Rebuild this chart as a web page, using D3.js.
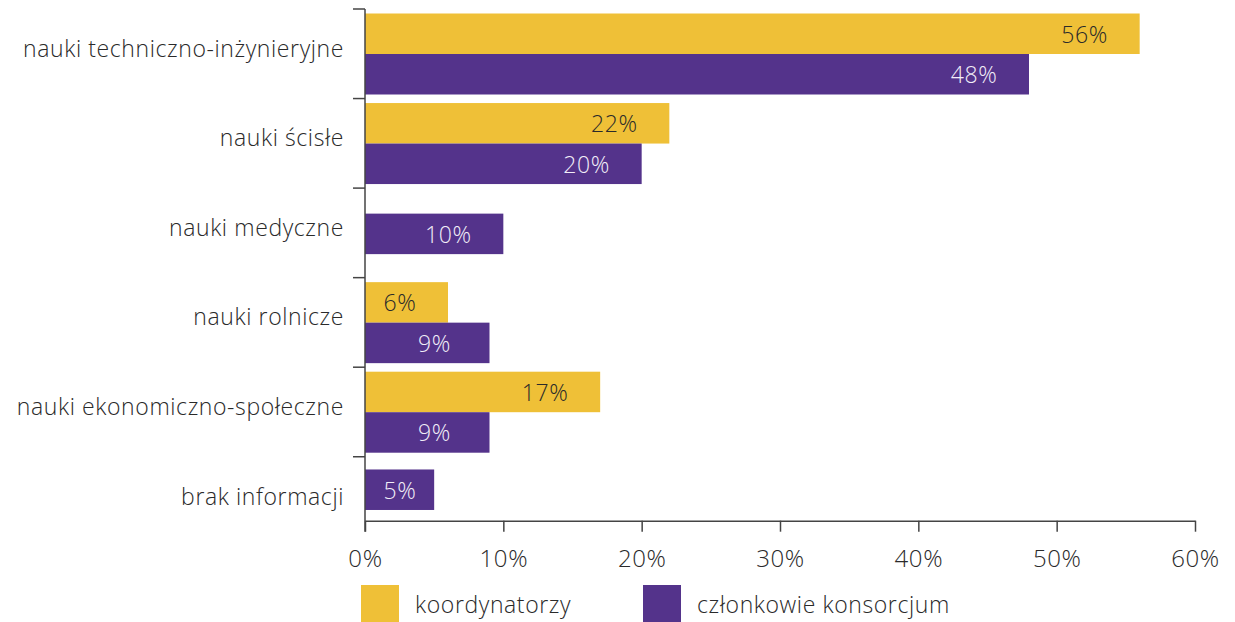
<!DOCTYPE html>
<html>
<head>
<meta charset="utf-8">
<script src="https://cdn.jsdelivr.net/npm/d3@7/dist/d3.min.js"></script>
<style>
  html, body { margin: 0; padding: 0; background: #fff; }
  svg { display: block; font-family: "Open Sans", "Lato", sans-serif; font-weight: 300; letter-spacing: 0.6px; }
</style>
</head>
<body>
<svg id="chart" width="1235" height="622"></svg>
<script>
// Share of project participants by scientific field
const categories = [
  "nauki techniczno-inżynieryjne",
  "nauki ścisłe",
  "nauki medyczne",
  "nauki rolnicze",
  "nauki ekonomiczno-społeczne",
  "brak informacji"
];
const koordynatorzy = [56, 22, null, 6, 17, null];
const czlonkowie = [48, 20, 10, 9, 9, 5];
const seriesNames = ["koordynatorzy", "członkowie konsorcjum"];
const seriesColors = ["#EFC037", "#54338B"];
const labelColors = ["#2a2a2a", "#F2EEF8"];
const xTicks = [0, 10, 20, 30, 40, 50, 60];

const svg = d3.select("#chart");
const plotLeft = 365, plotRight = 1195, plotTop = 9, axisY = 520.7;
const step = 89.55;
const fontFamily = "'Open Sans', Lato, sans-serif";
const textColor = "#2a2a2a";

const x = d3.scaleLinear().domain([0, 60]).range([plotLeft, plotRight]);
const y = d3.scaleBand().domain(categories).range([plotTop, plotTop + step * categories.length]).paddingInner(0).paddingOuter(0);
const sub = d3.scaleBand().domain([0, 1]).range([4.5, 85.5]).padding(0);

const series = [koordynatorzy, czlonkowie];
const barH = sub.bandwidth();

const bars = [];
categories.forEach((c, i) => {
  const present = series.map((s, k) => ({ k, v: s[i] })).filter(d => d.v != null);
  const b0 = y(c);
  present.forEach(d => {
    let yy;
    if (present.length === 1) {
      const b1 = Math.min(b0 + y.bandwidth(), axisY);
      yy = (b0 + b1) / 2 - barH / 2 + 1;
    } else {
      yy = b0 + sub(d.k);
    }
    bars.push({ cat: c, k: d.k, v: d.v, y: yy });
  });
});

// bars
svg.append("g").selectAll("rect").data(bars).join("rect")
  .attr("x", x(0))
  .attr("y", d => d.y)
  .attr("width", d => x(d.v) - x(0))
  .attr("height", barH)
  .attr("fill", d => seriesColors[d.k]);

// value labels inside bar ends
svg.append("g").selectAll("text").data(bars).join("text")
  .attr("x", d => Math.max(x(d.v) - 55, x(0) + 35))
  .attr("y", d => d.y + barH / 2)
  .attr("text-anchor", "middle")
  .attr("dominant-baseline", "central")
  .attr("font-size", 23)
  .attr("fill", d => labelColors[d.k])
  .text(d => d.v + "%");

// y axis line and category separators
const axisColor = "#444";
const gY = svg.append("g");
gY.append("line")
  .attr("x1", plotLeft).attr("x2", plotLeft)
  .attr("y1", plotTop).attr("y2", axisY + 11)
  .attr("stroke", axisColor).attr("stroke-width", 1.5);
gY.selectAll("line.tick").data(categories).join("line")
  .attr("class", "tick")
  .attr("x1", plotLeft - 12).attr("x2", plotLeft)
  .attr("y1", d => y(d)).attr("y2", d => y(d))
  .attr("stroke", axisColor).attr("stroke-width", 1.5);
gY.selectAll("text").data(categories).join("text")
  .attr("x", plotLeft - 21)
  .attr("y", d => y(d) + y.bandwidth() / 2 - 6)
  .attr("text-anchor", "end")
  .attr("dominant-baseline", "central")
  .attr("font-size", 23)
  .attr("fill", textColor)
  .text(d => d);

// x axis
const gX = svg.append("g").attr("transform", `translate(0,${axisY})`)
  .call(d3.axisBottom(x).tickValues(xTicks).tickFormat(d => d + "%").tickSize(11).tickSizeOuter(0));
gX.select(".domain").attr("stroke", axisColor).attr("stroke-width", 1.5);
gX.selectAll(".tick line").attr("stroke", axisColor).attr("stroke-width", 1.5);
gX.selectAll(".tick text")
  .attr("font-size", 24)
  .attr("fill", textColor)
  .attr("font-family", fontFamily)
  .attr("font-weight", 300)
  .attr("dy", null)
  .attr("y", 37)
  .attr("dominant-baseline", "central");

// legend
const legend = svg.append("g");
const legendX = [361, 643];
seriesNames.forEach((name, k) => {
  legend.append("rect")
    .attr("x", legendX[k]).attr("y", 585)
    .attr("width", 38).attr("height", 37)
    .attr("fill", seriesColors[k]);
  legend.append("text")
    .attr("x", legendX[k] + 54).attr("y", 604)
    .attr("dominant-baseline", "central")
    .attr("font-size", 23)
    .attr("fill", textColor)
    .text(name);
});
</script>
</body>
</html>
